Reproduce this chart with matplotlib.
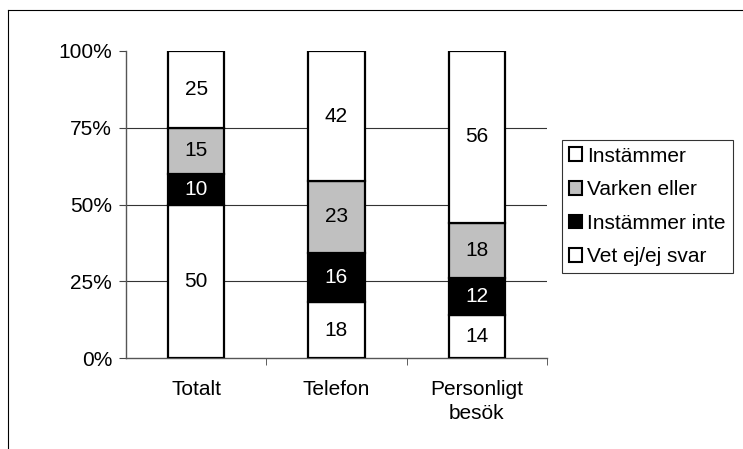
import numpy as np
from matplotlib import pyplot as plt
from matplotlib.lines import Line2D
from matplotlib.patches import Patch

plt.rcParams['font.family'] = ['Liberation Sans', 'DejaVu Sans']

categories = ["Totalt", "Telefon", "Personligt\nbesök"]
# stacked from bottom to top
series_names = ["Vet ej/ej svar", "Instämmer inte", "Varken eller", "Instämmer"]
series_values = [
    [50, 18, 14],
    [10, 16, 12],
    [15, 23, 18],
    [25, 42, 56],
]
series_colors = ["white", "black", "#c0c0c0", "white"]
text_colors = ["black", "white", "black", "black"]
y_ticks = [0, 25, 50, 75, 100]
y_tick_labels = ["0%", "25%", "50%", "75%", "100%"]

FS = 15

values = np.array(series_values, dtype=float)
shares = values / values.sum(axis=0) * 100

fig = plt.figure(figsize=(7.43, 4.49), dpi=100)
ax = fig.add_axes([126 / 743, 1 - 358 / 449, (547 - 126) / 743, (358 - 51) / 449])

x = np.arange(len(categories))
bottom = np.zeros(len(categories))
for i, name in enumerate(series_names):
    ax.bar(x, shares[i], 0.4, bottom=bottom, color=series_colors[i],
           edgecolor="black", linewidth=1.6, zorder=3, label=name)
    for j in range(len(categories)):
        ax.text(x[j], bottom[j] + shares[i][j] / 2, "%d" % values[i][j],
                ha="center", va="center", fontsize=FS, color=text_colors[i], zorder=4)
    bottom += shares[i]

ax.set_xlim(-0.5, 2.5)
ax.set_ylim(0, 100)
ax.set_yticks(y_ticks)
ax.set_yticklabels(y_tick_labels, fontsize=FS)
ax.set_xticks(x)
ax.set_xticklabels(categories, fontsize=FS, linespacing=1.3)
ax.set_xticks([0.5, 1.5, 2.5], minor=True)
ax.tick_params(axis="x", which="major", length=0, pad=16)
ax.tick_params(axis="x", which="minor", length=5, color="#444444")
ax.tick_params(axis="y", length=5, color="#444444", pad=5)

for y in y_ticks[1:-1]:
    ax.axhline(y, color="#333333", linewidth=0.8, zorder=1)

for side in ["top", "right"]:
    ax.spines[side].set_visible(False)
for side in ["left", "bottom"]:
    ax.spines[side].set_color("#555555")
    ax.spines[side].set_linewidth(1.0)

# legend lists the top series first
handles = [Patch(facecolor=series_colors[i], edgecolor="black", linewidth=1.5)
           for i in reversed(range(len(series_names)))]
leg = fig.legend(handles, list(reversed(series_names)), loc="upper left",
                 bbox_to_anchor=(562 / 743, 1 - 140 / 449), fontsize=FS,
                 frameon=True, fancybox=False, handlelength=0.65, handleheight=0.65,
                 handletextpad=0.25, labelspacing=0.7, borderpad=0.32,
                 borderaxespad=0)
leg.get_frame().set_edgecolor("black")
leg.get_frame().set_linewidth(0.8)

# outer chart frame
fig.add_artist(Line2D([8 / 743, 8 / 743], [0, 1 - 10 / 449], color="black",
                      linewidth=0.8, transform=fig.transFigure))
fig.add_artist(Line2D([8 / 743, 1], [1 - 10 / 449, 1 - 10 / 449], color="black",
                      linewidth=0.8, transform=fig.transFigure))

plt.savefig("out.png", dpi=100)
